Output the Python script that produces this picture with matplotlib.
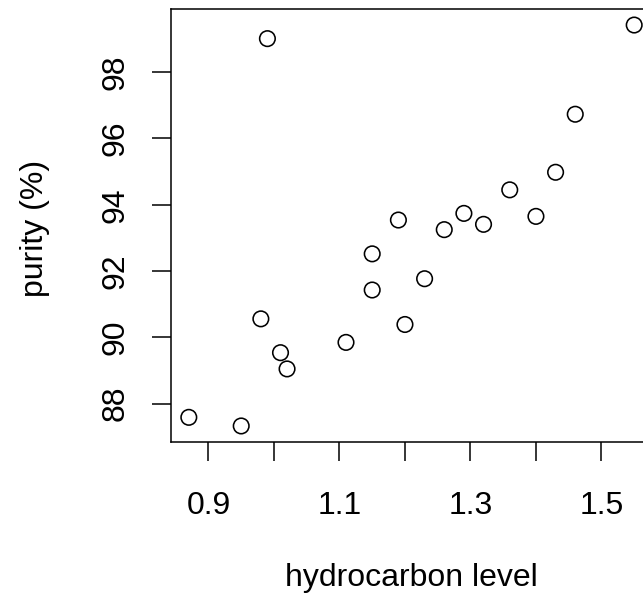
import matplotlib
matplotlib.use("Agg")
import matplotlib.pyplot as plt

hydrocarbon = [0.99, 1.02, 1.15, 1.29, 1.46, 1.36, 0.87, 1.23, 1.55, 1.40,
               1.19, 1.15, 0.98, 1.01, 1.11, 1.20, 1.26, 1.32, 1.43, 0.95]
purity = [99.01, 89.05, 91.43, 93.74, 96.73, 94.45, 87.59, 91.77, 99.42, 93.65,
          93.54, 92.52, 90.56, 89.54, 89.85, 90.39, 93.25, 93.41, 94.98, 87.33]

xticks = [0.9, 1.0, 1.1, 1.2, 1.3, 1.4, 1.5]
xlabels = ["0.9", "", "1.1", "", "1.3", "", "1.5"]
yticks = [88, 90, 92, 94, 96, 98]

plt.rcParams["font.family"] = ["Liberation Sans", "DejaVu Sans"]
fs = 23

fig = plt.figure(figsize=(6.43, 5.95), dpi=100)
ax = fig.add_axes([171 / 643, 153 / 595, 481 / 643, 433 / 595])

ax.scatter(hydrocarbon, purity, s=125, facecolors="none", edgecolors="black",
           linewidths=1.15)

xr = max(hydrocarbon) - min(hydrocarbon)
yr = max(purity) - min(purity)
ax.set_xlim(min(hydrocarbon) - 0.04 * xr, max(hydrocarbon) + 0.04 * xr)
ax.set_ylim(min(purity) - 0.04 * yr, max(purity) + 0.04 * yr)

ax.set_xticks(xticks)
ax.set_xticklabels(xlabels)
ax.set_yticks(yticks)
ax.set_yticklabels([str(v) for v in yticks], rotation=90, va="center")

ax.tick_params(axis="both", length=14, width=1.1, labelsize=fs, color="black")
ax.tick_params(axis="x", pad=21)
ax.tick_params(axis="y", pad=15)

for s in ax.spines.values():
    s.set_linewidth(1.1)
ax.spines["right"].set_visible(False)

fig.text(35 / 643, (595 - 228) / 595, "purity (%)", rotation=90,
         ha="center", va="center", fontsize=fs)
fig.text((171 + 481 / 2) / 643, (595 - 578) / 595, "hydrocarbon level",
         ha="center", va="center", fontsize=fs)

fig.savefig("out.png", dpi=100)
